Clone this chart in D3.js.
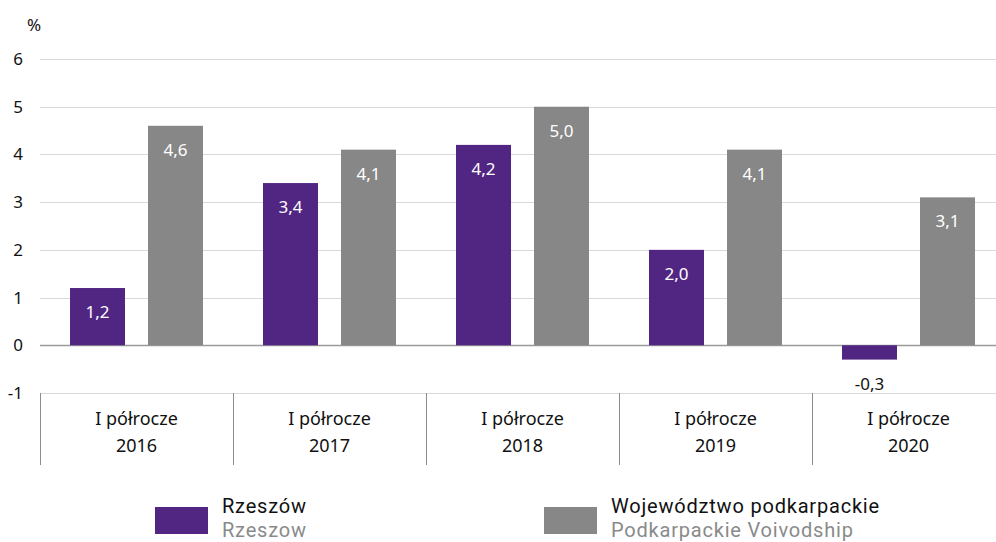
<!DOCTYPE html>
<html>
<head>
<meta charset="utf-8">
<script src="https://cdn.jsdelivr.net/npm/d3@7"></script>
<style>
  body { margin: 0; background: #fff; }
  svg { display: block; }
  text { font-family: "Noto Sans", "Open Sans", sans-serif; }
  text.leg { font-family: Roboto, "Noto Sans", sans-serif; letter-spacing: 0.8px; }
</style>
</head>
<body>
<svg id="chart" width="996" height="542"></svg>
<script>
// dane
var categories = ["I półrocze|2016", "I półrocze|2017", "I półrocze|2018", "I półrocze|2019", "I półrocze|2020"];
var rzeszow = [1.2, 3.4, 4.2, 2.0, -0.3];
var podkarpackie = [4.6, 4.1, 5.0, 4.1, 3.1];
var yTicks = [-1, 0, 1, 2, 3, 4, 5, 6];
var seriesNames = [["Rzeszów", "Rzeszow"], ["Województwo podkarpackie", "Podkarpackie Voivodship"]];
var colors = ["#512683", "#878787"];

var svg = d3.select("#chart");
var left = 40, right = 996;

// pasma po 193 px, ostatnie wychodzi poza kadr
var x = d3.scaleBand().domain(categories).range([left, left + 5 * 193]);
var y = d3.scaleLinear().domain([-1, 6]).range([393, 59]);

var fmt = function(v){ return d3.format(".1f")(v).replace(".", ",").replace("−", "-"); };

// siatka
svg.selectAll("line.grid")
  .data(yTicks)
  .enter().append("line")
  .attr("x1", left).attr("x2", right)
  .attr("y1", d => Math.round(y(d)) + 0.5).attr("y2", d => Math.round(y(d)) + 0.5)
  .attr("stroke", d => d === 0 ? "#9a9a9a" : "#d9d9d9")
  .attr("stroke-width", d => d === 0 ? 1.5 : 1);

// etykiety osi y
svg.selectAll("text.ytick")
  .data(yTicks)
  .enter().append("text")
  .attr("x", 23).attr("y", d => y(d) + 6)
  .attr("text-anchor", "end")
  .attr("font-size", 17).attr("fill", "#111")
  .text(d => d);

svg.append("text").attr("x", 27).attr("y", 31)
  .attr("font-size", 17).attr("fill", "#111").text("%");

// linie oddzielające kategorie
var seps = categories.map(c => x(c));
svg.selectAll("line.sep")
  .data(seps)
  .enter().append("line")
  .attr("x1", d => Math.round(d) + 0.5).attr("x2", d => Math.round(d) + 0.5)
  .attr("y1", y(-1)).attr("y2", 465)
  .attr("stroke", "#8c8c8c").attr("stroke-width", 1);

// etykiety kategorii
categories.forEach(function(c){
  var parts = c.split("|");
  var cx = x(c) + x.bandwidth() / 2;
  svg.append("text").attr("x", cx).attr("y", 425)
    .attr("text-anchor", "middle").attr("font-size", 18).attr("fill", "#111").text(parts[0]);
  svg.append("text").attr("x", cx).attr("y", 452)
    .attr("text-anchor", "middle").attr("font-size", 18).attr("fill", "#111").text(parts[1]);
});

// słupki
var barW = 55, gap = 23, pad = 30;
[rzeszow, podkarpackie].forEach(function(series, s){
  var g = svg.append("g");
  g.selectAll("rect")
    .data(series)
    .enter().append("rect")
    .attr("x", (d, i) => x(categories[i]) + pad + s * (barW + gap))
    .attr("y", d => y(Math.max(0, d)))
    .attr("width", barW)
    .attr("height", d => Math.abs(y(d) - y(0)))
    .attr("fill", colors[s]);
  g.selectAll("text")
    .data(series)
    .enter().append("text")
    .attr("x", (d, i) => x(categories[i]) + pad + s * (barW + gap) + barW / 2)
    .attr("y", d => y(d) + 30)
    .attr("text-anchor", "middle")
    .attr("font-size", 17)
    .attr("fill", d => d >= 0 ? "#fff" : "#111")
    .text(d => fmt(d));
});

// legenda
var legX = [155, 544];
seriesNames.forEach(function(n, s){
  svg.append("rect").attr("x", legX[s]).attr("y", 507).attr("width", 53).attr("height", 27).attr("fill", colors[s]);
  svg.append("text").attr("class", "leg").attr("x", legX[s] + 67).attr("y", 513)
    .attr("font-size", 20).attr("fill", "#111").text(n[0]);
  svg.append("text").attr("class", "leg").attr("x", legX[s] + 67).attr("y", 537)
    .attr("font-size", 20).attr("fill", "#8a8a8a").text(n[1]);
});
</script>
</body>
</html>
